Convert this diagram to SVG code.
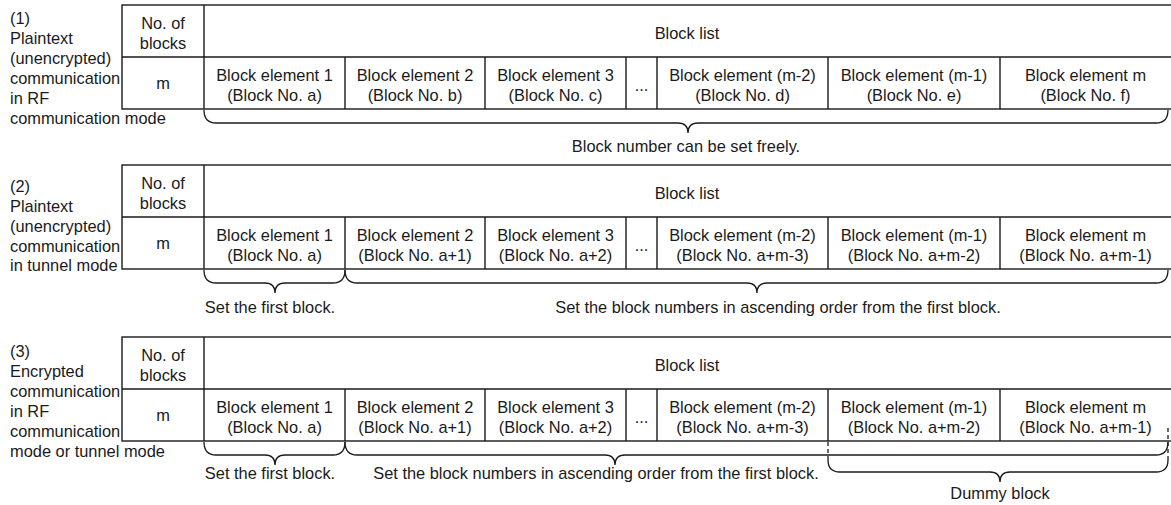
<svg xmlns="http://www.w3.org/2000/svg" width="1171" height="505" viewBox="0 0 1171 505">
<style>
text{font-family:"Liberation Sans",Arial,sans-serif;font-size:16.4px;fill:#1a1a1a}
.c{text-anchor:middle}
.b{fill:#fff;stroke:#1a1a1a;stroke-width:1.4}
.l{stroke:#1a1a1a;stroke-width:1.4;fill:none}
.br{stroke:#1a1a1a;stroke-width:1.3;fill:none}
.d{stroke:#1a1a1a;stroke-width:1.3;fill:none;stroke-dasharray:4 3}
</style>
<defs>
<g id="tbl">
<rect class="b" x="122" y="0" width="1050" height="104"/>
<path class="l" d="M122,52H1172M204,0V104M345,52V104M485,52V104M626,52V104M657,52V104M828,52V104M1000,52V104"/>
<text class="c" x="163" y="23.5">No. of</text>
<text class="c" x="163" y="43.5">blocks</text>
<text class="c" x="687" y="33.5">Block list</text>
<text class="c" x="163" y="84.3">m</text>
<text class="c" x="274.5" y="76">Block element 1</text>
<text class="c" x="415" y="76">Block element 2</text>
<text class="c" x="555.5" y="76">Block element 3</text>
<text class="c" x="641.5" y="86">...</text>
<text class="c" x="742.5" y="76">Block element (m-2)</text>
<text class="c" x="914" y="76">Block element (m-1)</text>
<text class="c" x="1085.5" y="76">Block element m</text>
</g>
</defs>

<g id="table1">
<use href="#tbl" x="0" y="5"/>
<text class="c" x="274.5" y="101">(Block No. a)</text>
<text class="c" x="415" y="101">(Block No. b)</text>
<text class="c" x="555.5" y="101">(Block No. c)</text>
<text class="c" x="742.5" y="101">(Block No. d)</text>
<text class="c" x="914" y="101">(Block No. e)</text>
<text class="c" x="1085.5" y="101">(Block No. f)</text>
<text x="10" y="23.5">(1)</text>
<text x="10" y="43.5">Plaintext</text>
<text x="10" y="63.5">(unencrypted)</text>
<text x="10" y="83.5">communication</text>
<text x="10" y="103.5">in RF</text>
<text x="10" y="123.5">communication mode</text>
<text class="c" x="686" y="151.5">Block number can be set freely.</text>
</g>

<g id="table2">
<use href="#tbl" x="0" y="165"/>
<text class="c" x="274.5" y="261">(Block No. a)</text>
<text class="c" x="415" y="261">(Block No. a+1)</text>
<text class="c" x="555.5" y="261">(Block No. a+2)</text>
<text class="c" x="742.5" y="261">(Block No. a+m-3)</text>
<text class="c" x="914" y="261">(Block No. a+m-2)</text>
<text class="c" x="1085.5" y="261">(Block No. a+m-1)</text>
<text x="10" y="191.5">(2)</text>
<text x="10" y="211.5">Plaintext</text>
<text x="10" y="231.5">(unencrypted)</text>
<text x="10" y="251.5">communication</text>
<text x="10" y="271">in tunnel mode</text>
<text class="c" x="270" y="312.5">Set the first block.</text>
<text class="c" x="778" y="312.5">Set the block numbers in ascending order from the first block.</text>
</g>

<g id="table3">
<use href="#tbl" x="0" y="337"/>
<text class="c" x="274.5" y="433">(Block No. a)</text>
<text class="c" x="415" y="433">(Block No. a+1)</text>
<text class="c" x="555.5" y="433">(Block No. a+2)</text>
<text class="c" x="742.5" y="433">(Block No. a+m-3)</text>
<text class="c" x="914" y="433">(Block No. a+m-2)</text>
<text class="c" x="1085.5" y="433">(Block No. a+m-1)</text>
<text x="10" y="356.5">(3)</text>
<text x="10" y="376.5">Encrypted</text>
<text x="10" y="396.5">communication</text>
<text x="10" y="416.5">in RF</text>
<text x="10" y="436.5">communication</text>
<text x="10" y="456.5">mode or tunnel mode</text>
<text class="c" x="270" y="479">Set the first block.</text>
<text class="c" x="596" y="479">Set the block numbers in ascending order from the first block.</text>
<text class="c" x="1000" y="499">Dummy block</text>
</g>

<g id="connectors">
<path class="br" d="M204,110Q204,123 216,123L678,123Q688,123 688,133Q688,123 698,123L1156,123Q1168,123 1168,110"/>
<path class="br" d="M204,270Q204,283 216,283L265,283Q275,283 275,293Q275,283 285,283L333,283Q345,283 345,270"/>
<path class="br" d="M345,270Q345,283 357,283L747,283Q757,283 757,293Q757,283 767,283L1156,283Q1168,283 1168,270"/>
<path class="br" d="M204,442Q204,455 216,455L265,455Q275,455 275,465Q275,455 285,455L333,455Q345,455 345,442"/>
<path class="br" d="M345,442Q345,455 357,455L605,455Q615,455 615,465Q615,455 625,455L1156,455Q1168,455 1168,442"/>
<path class="br" d="M828,460Q828,472 840,472L990,472Q1000,472 1000,482Q1000,472 1010,472L1156,472Q1168,472 1168,460"/>
<path class="d" d="M828,442V460M1168,428V460"/>
</g>
</svg>
